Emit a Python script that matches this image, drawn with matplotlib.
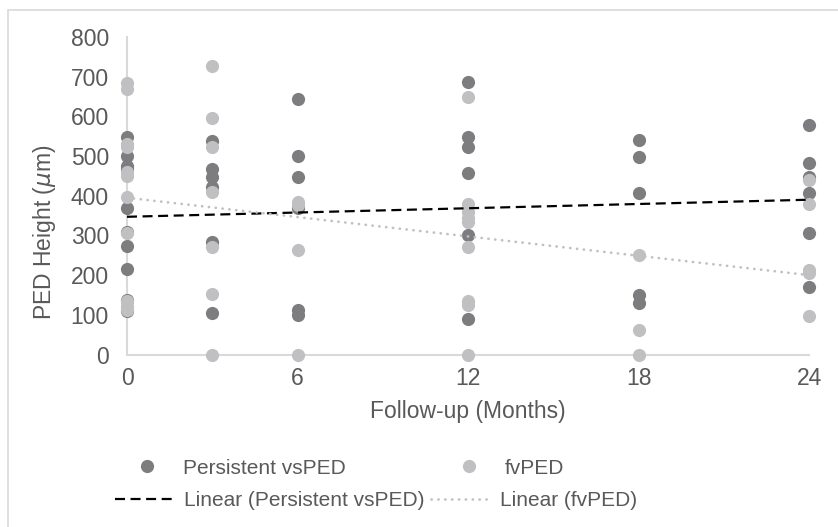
import numpy as np
import matplotlib
matplotlib.use("Agg")
import matplotlib.pyplot as plt
from matplotlib.lines import Line2D
from matplotlib.patches import Rectangle

plt.rcParams['font.family'] = ['Liberation Sans', 'DejaVu Sans']

# ---- data ----
persistent_months = [0]*10 + [3]*6 + [6]*6 + [12]*6 + [18]*5 + [24]*6
persistent_height = [547, 501, 476, 468, 368, 309, 273, 215, 138, 109,
                     539, 468, 447, 422, 284, 104,
                     643, 501, 447, 370, 113, 100,
                     687, 547, 524, 458, 301, 89,
                     540, 497, 407, 150, 130,
                     579, 482, 447, 408, 307, 170]
fv_months = [0]*11 + [3]*7 + [6]*4 + [12]*9 + [18]*3 + [24]*5
fv_height = [685, 668, 530, 522, 459, 451, 397, 305, 134, 121, 113,
             727, 597, 522, 409, 271, 153, 0,
             384, 376, 263, 0,
             649, 380, 359, 344, 334, 271, 136, 125, 0,
             251, 61, 0,
             440, 380, 213, 205, 98]
# linear trend lines as shown in the reference (value at month 0 and month 24)
trend_months = [0, 24]
persistent_trend = [347, 390]
fv_trend = [395, 200]
x_ticks = [0, 6, 12, 18, 24]
y_ticks = [0, 100, 200, 300, 400, 500, 600, 700, 800]

dark = '#7d7d80'
light = '#c0c0c3'
txt = '#595959'
axc = '#d9d9d9'

W, H = 838, 527
fig = plt.figure(figsize=(W/100, H/100), dpi=100)
ax = fig.add_axes([127/W, (H-354.5)/H, 682/W, (354.5-37)/H])

ax.scatter(persistent_months, persistent_height, s=90, color=dark, linewidths=0, clip_on=False, zorder=3)
ax.scatter(fv_months, fv_height, s=90, color=light, linewidths=0, clip_on=False, zorder=4)

ax.plot(trend_months, persistent_trend, color='black', lw=1.6, linestyle=(0, (4.5, 2.5)), zorder=5, clip_on=False)
ax.plot(trend_months, fv_trend, color=light, lw=1.9, linestyle=(0, (0.1, 2.5)),
        dash_capstyle='round', zorder=5, clip_on=False)

ax.set_xlim(0, 24)
ax.set_ylim(0, 800)
ax.set_xticks(x_ticks)
ax.set_yticks(y_ticks)
for s in ['top', 'right']:
    ax.spines[s].set_visible(False)
for s in ['left', 'bottom']:
    ax.spines[s].set_color(axc)
    ax.spines[s].set_linewidth(1.5)
ax.tick_params(axis='both', length=0, labelsize=16.5, labelcolor=txt)
ax.tick_params(axis='y', pad=13)
ax.tick_params(axis='x', pad=9)
ax.set_xlabel('Follow-up (Months)', fontsize=16.5, color=txt, labelpad=7)
ax.set_ylabel(r'PED Height ($\mathit{\mu}$m)', fontsize=16.5, color=txt)
ax.yaxis.set_label_coords((58 - 127)/682, (354.5 - 232)/317.5)

# border of chart area
fig.add_artist(Rectangle((8/W, -0.1), 1.2, (H-10)/H + 0.1, transform=fig.transFigure,
                         fill=False, edgecolor=axc, lw=1.2))

fs = 15
h1 = [Line2D([], [], ls='none', marker='o', ms=9.5, mfc=dark, mec='none'),
      Line2D([], [], ls='none', marker='o', ms=9.5, mfc=light, mec='none')]
fig.legend(h1, ['Persistent vsPED', 'fvPED'], ncol=2, loc='center left',
           bbox_to_anchor=(131.5/W, (H-468)/H), frameon=False, fontsize=fs,
           handlelength=1.5, handletextpad=0.95, columnspacing=5.2,
           borderpad=0, borderaxespad=0, labelcolor=txt)
h2 = [Line2D([], [], color='black', lw=1.6, ls=(0, (4.5, 2.5))),
      Line2D([], [], color=light, lw=1.9, ls=(0, (0.1, 2.5)), dash_capstyle='round')]
fig.legend(h2, ['Linear (Persistent vsPED)', 'Linear (fvPED)'], ncol=2, loc='center left',
           bbox_to_anchor=(115/W, (H-501)/H), frameon=False, fontsize=fs,
           handlelength=2.9, handletextpad=0.43, columnspacing=0.29,
           borderpad=0, borderaxespad=0, labelcolor=txt)

fig.savefig('out.png', dpi=100)
